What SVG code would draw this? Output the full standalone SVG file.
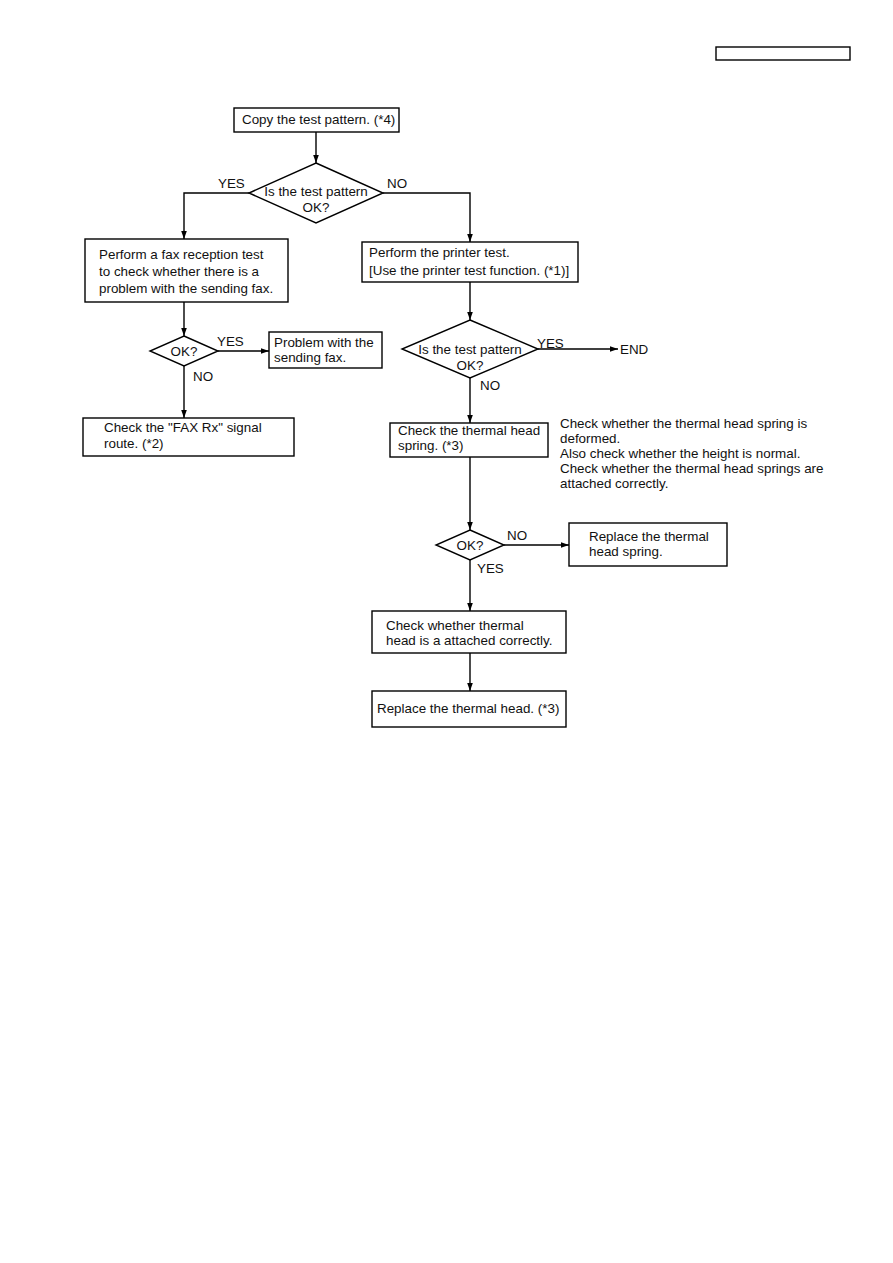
<svg xmlns="http://www.w3.org/2000/svg" width="893" height="1263" viewBox="0 0 893 1263">
<defs>
<marker id="arr" viewBox="0 0 10 10" refX="10" refY="5" markerWidth="8" markerHeight="8" markerUnits="userSpaceOnUse" orient="auto">
<path d="M0,1.5 L10,5 L0,8.5 z" fill="#000"/>
</marker>
</defs>
<style>
.box{fill:#fff;stroke:#000;stroke-width:1.4}
.t{font-family:"Liberation Sans",Arial,sans-serif;font-size:13.4px;fill:#111}
.c{text-anchor:middle}
.ln{fill:none;stroke:#000;stroke-width:1.4}
.ar{fill:none;stroke:#000;stroke-width:1.4;marker-end:url(#arr)}
</style>
<rect width="893" height="1263" fill="#fff"/>
<g id="header"><rect class="box" x="716" y="47" width="134" height="13"/></g>
<g id="connectors">
<line class="ar" x1="316" y1="132" x2="316" y2="163"/>
<polyline class="ar" points="249,193 184,193 184,239"/>
<polyline class="ar" points="383,193 470,193 470,242"/>
<line class="ar" x1="184" y1="302" x2="184" y2="336"/>
<line class="ar" x1="218" y1="351" x2="269" y2="351"/>
<line class="ar" x1="184" y1="366" x2="184" y2="418"/>
<line class="ar" x1="470" y1="282" x2="470" y2="320"/>
<line class="ar" x1="538" y1="349" x2="618" y2="349"/>
<line class="ar" x1="470" y1="378" x2="470" y2="423"/>
<line class="ar" x1="470" y1="457" x2="470" y2="530"/>
<line class="ar" x1="504" y1="545" x2="569" y2="545"/>
<line class="ar" x1="470" y1="560" x2="470" y2="611"/>
<line class="ar" x1="470" y1="653" x2="470" y2="691"/>
<text class="t" x="218" y="188">YES</text>
<text class="t" x="387" y="188">NO</text>
<text class="t" x="217" y="346">YES</text>
<text class="t" x="193" y="381">NO</text>
<text class="t" x="537" y="348">YES</text>
<text class="t" x="480" y="390">NO</text>
<text class="t" x="507" y="540">NO</text>
<text class="t" x="477" y="573">YES</text>
</g>
<g id="n1"><rect class="box" x="234" y="108" width="165" height="24"/><text class="t" x="242" y="124">Copy the test pattern. (*4)</text></g>
<g id="d1"><polygon class="box" points="316,163 383,193 316,223 249,193"/><text class="t c" x="316" y="196">Is the test pattern</text><text class="t c" x="316" y="212">OK?</text></g>
<g id="n2"><rect class="box" x="85" y="239" width="203" height="63"/><text class="t" x="99" y="259">Perform a fax reception test</text><text class="t" x="99" y="276">to check whether there is a</text><text class="t" x="99" y="293">problem with the sending fax.</text></g>
<g id="d2"><polygon class="box" points="184,336 218,351 184,366 150,351"/><text class="t c" x="184" y="356">OK?</text></g>
<g id="n3"><rect class="box" x="269" y="332" width="113" height="36"/><text class="t" x="274" y="347">Problem with the</text><text class="t" x="274" y="362">sending fax.</text></g>
<g id="n4"><rect class="box" x="83" y="418" width="211" height="38"/><text class="t" x="104" y="432">Check the "FAX Rx" signal</text><text class="t" x="104" y="448">route. (*2)</text></g>
<g id="n5"><rect class="box" x="362" y="242" width="216" height="40"/><text class="t" x="369" y="257">Perform the printer test.</text><text class="t" x="369" y="275">[Use the printer test function. (*1)]</text></g>
<g id="d3"><polygon class="box" points="470,320 538,349 470,378 402,349"/><text class="t c" x="470" y="354">Is the test pattern</text><text class="t c" x="470" y="370">OK?</text></g>
<g id="end"><text class="t" x="620" y="354">END</text></g>
<g id="n6"><rect class="box" x="390" y="423" width="158" height="34"/><text class="t" x="398" y="435">Check the thermal head</text><text class="t" x="398" y="450">spring. (*3)</text></g>
<g id="note"><text class="t" x="560" y="428">Check whether the thermal head spring is</text><text class="t" x="560" y="443">deformed.</text><text class="t" x="560" y="458">Also check whether the height is normal.</text><text class="t" x="560" y="473">Check whether the thermal head springs are</text><text class="t" x="560" y="488">attached correctly.</text></g>
<g id="d4"><polygon class="box" points="470,530 504,545 470,560 436,545"/><text class="t c" x="470" y="550">OK?</text></g>
<g id="n7"><rect class="box" x="569" y="523" width="158" height="43"/><text class="t" x="589" y="541">Replace the thermal</text><text class="t" x="589" y="556">head spring.</text></g>
<g id="n8"><rect class="box" x="372" y="611" width="194" height="42"/><text class="t" x="386" y="630">Check whether thermal</text><text class="t" x="386" y="645">head is a attached correctly.</text></g>
<g id="n9"><rect class="box" x="372" y="691" width="194" height="36"/><text class="t" x="377" y="713">Replace the thermal head. (*3)</text></g>
</svg>
